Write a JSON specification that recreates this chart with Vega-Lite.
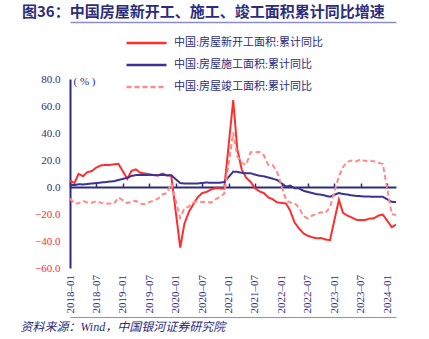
{
  "$schema": "https://vega.github.io/schema/vega-lite/v6.json",
  "width": 326,
  "height": 189,
  "autosize": {"type": "none"},
  "padding": {"left": 70, "top": 79, "right": 33, "bottom": 71},
  "title": {
    "text": "图36：中国房屋新开工、施工、竣工面积累计同比增速",
    "anchor": "start",
    "frame": "group",
    "dx": -48,
    "offset": -10,
    "baseline": "alphabetic",
    "font": "Noto Sans CJK SC",
    "fontSize": 15,
    "fontWeight": "bold",
    "color": "#2B2C7C"
  },
  "data": {
    "values": [
      {"d": "2018-01", "中国:房屋新开工面积:累计同比": 4.8, "中国:房屋施工面积:累计同比": 1.6, "中国:房屋竣工面积:累计同比": -8.5},
      {"d": "2018-02", "中国:房屋新开工面积:累计同比": 2.9, "中国:房屋施工面积:累计同比": 1.5, "中国:房屋竣工面积:累计同比": -12.3},
      {"d": "2018-03", "中国:房屋新开工面积:累计同比": 9.7, "中国:房屋施工面积:累计同比": 2.0, "中国:房屋竣工面积:累计同比": -12.0},
      {"d": "2018-04", "中国:房屋新开工面积:累计同比": 8.0, "中国:房屋施工面积:累计同比": 1.9, "中国:房屋竣工面积:累计同比": -10.4},
      {"d": "2018-05", "中国:房屋新开工面积:累计同比": 11.0, "中国:房屋施工面积:累计同比": 2.2, "中国:房屋竣工面积:累计同比": -11.4},
      {"d": "2018-06", "中国:房屋新开工面积:累计同比": 11.8, "中国:房屋施工面积:累计同比": 2.6, "中国:房屋竣工面积:累计同比": -11.6},
      {"d": "2018-07", "中国:房屋新开工面积:累计同比": 14.4, "中国:房屋施工面积:累计同比": 2.9, "中国:房屋竣工面积:累计同比": -10.5},
      {"d": "2018-08", "中国:房屋新开工面积:累计同比": 15.9, "中国:房屋施工面积:累计同比": 3.3, "中国:房屋竣工面积:累计同比": -11.6},
      {"d": "2018-09", "中国:房屋新开工面积:累计同比": 16.4, "中国:房屋施工面积:累计同比": 3.6, "中国:房屋竣工面积:累计同比": -12.5},
      {"d": "2018-10", "中国:房屋新开工面积:累计同比": 16.3, "中国:房屋施工面积:累计同比": 4.0, "中国:房屋竣工面积:累计同比": -12.3},
      {"d": "2018-11", "中国:房屋新开工面积:累计同比": 16.8, "中国:房屋施工面积:累计同比": 4.3, "中国:房屋竣工面积:累计同比": -12.3},
      {"d": "2018-12", "中国:房屋新开工面积:累计同比": 17.2, "中国:房屋施工面积:累计同比": 5.2, "中国:房屋竣工面积:累计同比": -7.8},
      {"d": "2019-02", "中国:房屋新开工面积:累计同比": 6.0, "中国:房屋施工面积:累计同比": 6.8, "中国:房屋竣工面积:累计同比": -11.9},
      {"d": "2019-03", "中国:房屋新开工面积:累计同比": 11.9, "中国:房屋施工面积:累计同比": 8.2, "中国:房屋竣工面积:累计同比": -10.8},
      {"d": "2019-04", "中国:房屋新开工面积:累计同比": 13.1, "中国:房屋施工面积:累计同比": 8.8, "中国:房屋竣工面积:累计同比": -10.3},
      {"d": "2019-05", "中国:房屋新开工面积:累计同比": 10.5, "中国:房屋施工面积:累计同比": 8.8, "中国:房屋竣工面积:累计同比": -12.4},
      {"d": "2019-06", "中国:房屋新开工面积:累计同比": 10.1, "中国:房屋施工面积:累计同比": 8.8, "中国:房屋竣工面积:累计同比": -12.7},
      {"d": "2019-07", "中国:房屋新开工面积:累计同比": 9.5, "中国:房屋施工面积:累计同比": 9.0, "中国:房屋竣工面积:累计同比": -11.3},
      {"d": "2019-08", "中国:房屋新开工面积:累计同比": 8.9, "中国:房屋施工面积:累计同比": 8.8, "中国:房屋竣工面积:累计同比": -10.0},
      {"d": "2019-09", "中国:房屋新开工面积:累计同比": 8.6, "中国:房屋施工面积:累计同比": 8.7, "中国:房屋竣工面积:累计同比": -8.6},
      {"d": "2019-10", "中国:房屋新开工面积:累计同比": 10.0, "中国:房屋施工面积:累计同比": 9.0, "中国:房屋竣工面积:累计同比": -5.5},
      {"d": "2019-11", "中国:房屋新开工面积:累计同比": 8.6, "中国:房屋施工面积:累计同比": 8.7, "中国:房屋竣工面积:累计同比": -4.5},
      {"d": "2019-12", "中国:房屋新开工面积:累计同比": 8.5, "中国:房屋施工面积:累计同比": 8.7, "中国:房屋竣工面积:累计同比": 2.6},
      {"d": "2020-02", "中国:房屋新开工面积:累计同比": -44.9, "中国:房屋施工面积:累计同比": 2.9, "中国:房屋竣工面积:累计同比": -22.9},
      {"d": "2020-03", "中国:房屋新开工面积:累计同比": -27.2, "中国:房屋施工面积:累计同比": 2.6, "中国:房屋竣工面积:累计同比": -15.8},
      {"d": "2020-04", "中国:房屋新开工面积:累计同比": -18.4, "中国:房屋施工面积:累计同比": 2.5, "中国:房屋竣工面积:累计同比": -14.5},
      {"d": "2020-05", "中国:房屋新开工面积:累计同比": -12.8, "中国:房屋施工面积:累计同比": 2.6, "中国:房屋竣工面积:累计同比": -11.5},
      {"d": "2020-06", "中国:房屋新开工面积:累计同比": -7.6, "中国:房屋施工面积:累计同比": 2.6, "中国:房屋竣工面积:累计同比": -10.5},
      {"d": "2020-07", "中国:房屋新开工面积:累计同比": -4.5, "中国:房屋施工面积:累计同比": 3.0, "中国:房屋竣工面积:累计同比": -11.2},
      {"d": "2020-08", "中国:房屋新开工面积:累计同比": -3.6, "中国:房屋施工面积:累计同比": 3.3, "中国:房屋竣工面积:累计同比": -10.8},
      {"d": "2020-09", "中国:房屋新开工面积:累计同比": -1.8, "中国:房屋施工面积:累计同比": 3.1, "中国:房屋竣工面积:累计同比": -11.6},
      {"d": "2020-10", "中国:房屋新开工面积:累计同比": -0.9, "中国:房屋施工面积:累计同比": 3.1, "中国:房屋竣工面积:累计同比": -9.2},
      {"d": "2020-11", "中国:房屋新开工面积:累计同比": -1.0, "中国:房屋施工面积:累计同比": 3.2, "中国:房屋竣工面积:累计同比": -7.3},
      {"d": "2020-12", "中国:房屋新开工面积:累计同比": -1.2, "中国:房屋施工面积:累计同比": 3.7, "中国:房屋竣工面积:累计同比": -4.9},
      {"d": "2021-02", "中国:房屋新开工面积:累计同比": 64.3, "中国:房屋施工面积:累计同比": 11.4, "中国:房屋竣工面积:累计同比": 40.4},
      {"d": "2021-03", "中国:房屋新开工面积:累计同比": 28.2, "中国:房屋施工面积:累计同比": 11.2, "中国:房屋竣工面积:累计同比": 22.9},
      {"d": "2021-04", "中国:房屋新开工面积:累计同比": 12.8, "中国:房屋施工面积:累计同比": 10.5, "中国:房屋竣工面积:累计同比": 17.9},
      {"d": "2021-05", "中国:房屋新开工面积:累计同比": 6.9, "中国:房屋施工面积:累计同比": 10.1, "中国:房屋竣工面积:累计同比": 16.4},
      {"d": "2021-06", "中国:房屋新开工面积:累计同比": 3.8, "中国:房屋施工面积:累计同比": 10.2, "中国:房屋竣工面积:累计同比": 25.7},
      {"d": "2021-07", "中国:房屋新开工面积:累计同比": -0.9, "中国:房屋施工面积:累计同比": 9.2, "中国:房屋竣工面积:累计同比": 25.7},
      {"d": "2021-08", "中国:房屋新开工面积:累计同比": -3.2, "中国:房屋施工面积:累计同比": 8.4, "中国:房屋竣工面积:累计同比": 26.0},
      {"d": "2021-09", "中国:房屋新开工面积:累计同比": -4.5, "中国:房屋施工面积:累计同比": 7.9, "中国:房屋竣工面积:累计同比": 23.4},
      {"d": "2021-10", "中国:房屋新开工面积:累计同比": -7.7, "中国:房屋施工面积:累计同比": 7.1, "中国:房屋竣工面积:累计同比": 16.3},
      {"d": "2021-11", "中国:房屋新开工面积:累计同比": -9.1, "中国:房屋施工面积:累计同比": 6.1, "中国:房屋竣工面积:累计同比": 16.2},
      {"d": "2021-12", "中国:房屋新开工面积:累计同比": -11.4, "中国:房屋施工面积:累计同比": 5.2, "中国:房屋竣工面积:累计同比": 11.2},
      {"d": "2022-02", "中国:房屋新开工面积:累计同比": -12.2, "中国:房屋施工面积:累计同比": 0.3, "中国:房屋竣工面积:累计同比": -9.8},
      {"d": "2022-03", "中国:房屋新开工面积:累计同比": -17.5, "中国:房屋施工面积:累计同比": 1.0, "中国:房屋竣工面积:累计同比": -11.5},
      {"d": "2022-04", "中国:房屋新开工面积:累计同比": -26.3, "中国:房屋施工面积:累计同比": -1.0, "中国:房屋竣工面积:累计同比": -11.9},
      {"d": "2022-05", "中国:房屋新开工面积:累计同比": -30.6, "中国:房屋施工面积:累计同比": -1.0, "中国:房屋竣工面积:累计同比": -15.3},
      {"d": "2022-06", "中国:房屋新开工面积:累计同比": -34.4, "中国:房屋施工面积:累计同比": -2.8, "中国:房屋竣工面积:累计同比": -21.5},
      {"d": "2022-07", "中国:房屋新开工面积:累计同比": -36.1, "中国:房屋施工面积:累计同比": -3.7, "中国:房屋竣工面积:累计同比": -23.3},
      {"d": "2022-08", "中国:房屋新开工面积:累计同比": -37.2, "中国:房屋施工面积:累计同比": -4.5, "中国:房屋竣工面积:累计同比": -21.1},
      {"d": "2022-09", "中国:房屋新开工面积:累计同比": -38.0, "中国:房屋施工面积:累计同比": -5.3, "中国:房屋竣工面积:累计同比": -19.9},
      {"d": "2022-10", "中国:房屋新开工面积:累计同比": -37.8, "中国:房屋施工面积:累计同比": -5.7, "中国:房屋竣工面积:累计同比": -18.7},
      {"d": "2022-11", "中国:房屋新开工面积:累计同比": -38.9, "中国:房屋施工面积:累计同比": -6.5, "中国:房屋竣工面积:累计同比": -19.0},
      {"d": "2022-12", "中国:房屋新开工面积:累计同比": -39.4, "中国:房屋施工面积:累计同比": -7.2, "中国:房屋竣工面积:累计同比": -15.0},
      {"d": "2023-02", "中国:房屋新开工面积:累计同比": -9.4, "中国:房屋施工面积:累计同比": -4.4, "中国:房屋竣工面积:累计同比": 8.0},
      {"d": "2023-03", "中国:房屋新开工面积:累计同比": -19.2, "中国:房屋施工面积:累计同比": -5.2, "中国:房屋竣工面积:累计同比": 14.7},
      {"d": "2023-04", "中国:房屋新开工面积:累计同比": -21.2, "中国:房屋施工面积:累计同比": -5.6, "中国:房屋竣工面积:累计同比": 18.8},
      {"d": "2023-05", "中国:房屋新开工面积:累计同比": -22.6, "中国:房屋施工面积:累计同比": -6.2, "中国:房屋竣工面积:累计同比": 19.6},
      {"d": "2023-06", "中国:房屋新开工面积:累计同比": -24.3, "中国:房屋施工面积:累计同比": -6.6, "中国:房屋竣工面积:累计同比": 19.0},
      {"d": "2023-07", "中国:房屋新开工面积:累计同比": -24.5, "中国:房屋施工面积:累计同比": -6.8, "中国:房屋竣工面积:累计同比": 20.5},
      {"d": "2023-08", "中国:房屋新开工面积:累计同比": -24.4, "中国:房屋施工面积:累计同比": -7.1, "中国:房屋竣工面积:累计同比": 19.2},
      {"d": "2023-09", "中国:房屋新开工面积:累计同比": -23.4, "中国:房屋施工面积:累计同比": -7.1, "中国:房屋竣工面积:累计同比": 19.8},
      {"d": "2023-10", "中国:房屋新开工面积:累计同比": -23.2, "中国:房屋施工面积:累计同比": -7.3, "中国:房屋竣工面积:累计同比": 19.0},
      {"d": "2023-11", "中国:房屋新开工面积:累计同比": -21.2, "中国:房屋施工面积:累计同比": -7.2, "中国:房屋竣工面积:累计同比": 17.9},
      {"d": "2023-12", "中国:房屋新开工面积:累计同比": -20.4, "中国:房屋施工面积:累计同比": -7.2, "中国:房屋竣工面积:累计同比": 17.0},
      {"d": "2024-02", "中国:房屋新开工面积:累计同比": -29.7, "中国:房屋施工面积:累计同比": -11.0, "中国:房屋竣工面积:累计同比": -20.2},
      {"d": "2024-03", "中国:房屋新开工面积:累计同比": -27.8, "中国:房屋施工面积:累计同比": -11.1, "中国:房屋竣工面积:累计同比": -20.7}
    ]
  },
  "transform": [
    {"fold": ["中国:房屋新开工面积:累计同比", "中国:房屋施工面积:累计同比", "中国:房屋竣工面积:累计同比"], "as": ["series", "value"]}
  ],
  "resolve": {"axis": {"x": "independent"}},
  "layer": [
    {
      "mark": {"type": "line", "strokeWidth": 2},
      "encoding": {
        "x": {
          "field": "d", "type": "temporal",
          "scale": {"type": "utc", "nice": false},
          "axis": {
            "orient": "top", "offset": -238,
            "labelExpr": "utcFormat(datum.value, '%Y–%m')",
            "tickCount": {"interval": "month", "step": 6},
            "labelAngle": -90, "labelAlign": "left", "labelBaseline": "middle",
            "labelPadding": 4, "labelFont": "Liberation Serif", "labelFontSize": 11,
            "labelColor": "#2B2C7C", "labelOverlap": false, "labelFlush": false,
            "ticks": false, "grid": false,
            "domainColor": "#8C8CC8", "domainWidth": 1,
            "title": "资料来源：Wind，中国银河证券研究院",
            "titleX": -50, "titleY": 9, "titleAngle": 0,
            "titleAlign": "left", "titleBaseline": "middle",
            "titleFont": "Liberation Serif, Noto Sans CJK SC",
            "titleFontSize": 12, "titleFontStyle": "italic", "titleFontWeight": "normal",
            "titleColor": "#2B2C7C"
          }
        },
        "y": {
          "field": "value", "type": "quantitative",
          "scale": {"domain": [-60, 80], "nice": false},
          "axis": {
            "values": [-60, -40, -20, 0, 20, 40, 60, 80],
            "format": ".1f",
            "ticks": false, "grid": false,
            "domainColor": "#2B2C7C", "domainWidth": 2,
            "labelPadding": 10, "labelFont": "Liberation Serif", "labelFontSize": 11,
            "labelColor": {"condition": {"test": "datum.value < 0", "value": "#FF2A2A"}, "value": "#2B2C7C"},
            "title": "( % )", "titleAngle": 0, "titleX": 3, "titleY": 2,
            "titleAlign": "left", "titleBaseline": "middle",
            "titleFont": "Liberation Serif", "titleFontSize": 11, "titleFontWeight": "normal",
            "titleColor": "#2B2C7C"
          }
        },
        "color": {
          "field": "series", "type": "nominal",
          "scale": {
            "domain": ["中国:房屋新开工面积:累计同比", "中国:房屋施工面积:累计同比", "中国:房屋竣工面积:累计同比"],
            "range": ["#FF2E2E", "#3A3395", "#FF8A8A"]
          },
          "legend": {
            "orient": "none", "legendX": 55, "legendY": -47, "direction": "vertical",
            "title": null, "padding": 0,
            "symbolType": "stroke", "symbolSize": 1600, "symbolStrokeWidth": 2.5,
            "labelFont": "Liberation Serif, Noto Sans CJK SC", "labelFontSize": 11,
            "labelColor": "#2B2C7C", "labelOffset": 6, "rowPadding": 0,
            "clipHeight": 22, "labelLimit": 300
          }
        },
        "strokeDash": {
          "field": "series", "type": "nominal",
          "scale": {
            "domain": ["中国:房屋新开工面积:累计同比", "中国:房屋施工面积:累计同比", "中国:房屋竣工面积:累计同比"],
            "range": [[1, 0], [1, 0], [5, 3]]
          },
          "legend": {
            "orient": "none", "legendX": 55, "legendY": -47, "direction": "vertical",
            "title": null, "padding": 0,
            "symbolType": "stroke", "symbolSize": 1600, "symbolStrokeWidth": 2.5,
            "labelFont": "Liberation Serif, Noto Sans CJK SC", "labelFontSize": 11,
            "labelColor": "#2B2C7C", "labelOffset": 6, "rowPadding": 0,
            "clipHeight": 22, "labelLimit": 300
          }
        }
      }
    },
    {
      "mark": {"type": "point", "opacity": 0},
      "encoding": {
        "x": {
          "field": "d", "type": "temporal",
          "axis": {
            "orient": "bottom", "offset": -81,
            "tickCount": {"interval": "month", "step": 6},
            "labels": false, "ticks": true, "tickSize": -4, "tickWidth": 1.5,
            "tickColor": "#2B2C7C", "grid": false,
            "domainColor": "#2B2C7C", "domainWidth": 2,
            "title": null
          }
        }
      }
    },
    {
      "mark": {"type": "point", "opacity": 0},
      "encoding": {
        "x": {
          "field": "d", "type": "temporal",
          "axis": {
            "orient": "top", "offset": 57,
            "labels": false, "ticks": false, "grid": false,
            "domainColor": "#8C8CC8", "domainWidth": 1.5,
            "title": null
          }
        }
      }
    }
  ],
  "config": {
    "view": {"stroke": null},
    "font": "Liberation Serif"
  }
}
